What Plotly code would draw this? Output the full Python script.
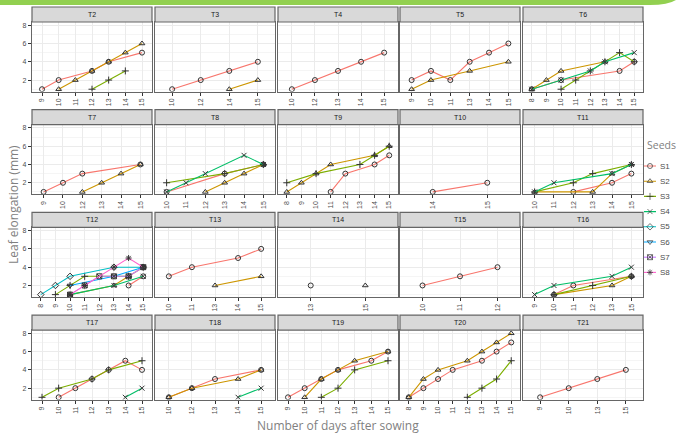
import plotly.graph_objects as go
from plotly.subplots import make_subplots

W, H = 679, 434

PANELS = [f"T{i}" for i in range(2, 22)]
DAYS = {
    "T2": [9, 10, 11, 12, 13, 14, 15],
    "T3": [10, 12, 14, 15],
    "T4": [10, 12, 13, 14, 15],
    "T5": [9, 10, 11, 13, 14, 15],
    "T6": [8, 9, 10, 11, 12, 13, 14, 15],
    "T7": [9, 10, 12, 13, 14, 15],
    "T8": [10, 11, 12, 13, 14, 15],
    "T9": [8, 9, 10, 11, 12, 13, 14, 15],
    "T10": [14, 15],
    "T11": [10, 11, 12, 13, 14, 15],
    "T12": [8, 9, 10, 11, 12, 13, 14, 15],
    "T13": [10, 11, 13, 14, 15],
    "T14": [13, 15],
    "T15": [10, 11, 12],
    "T16": [9, 10, 11, 12, 13, 15],
    "T17": [9, 10, 11, 12, 13, 14, 15],
    "T18": [10, 12, 13, 14, 15],
    "T19": [9, 10, 11, 12, 13, 14, 15],
    "T20": [8, 9, 10, 11, 12, 13, 14, 15],
    "T21": [9, 10, 13, 15],
}

SEEDS = ["S1", "S2", "S3", "S4", "S5", "S6", "S7", "S8"]
COLORS = ["#F8766D", "#CD9600", "#7CAE00", "#00BE67", "#00BFC4", "#00A9FF", "#C77CFF", "#FF61CC"]
SYMBOLS = ["circle-open", "triangle-up-open", "cross-thin-open", "x-thin-open",
           "diamond-open", "triangle-down-open", "square-x-open", "asterisk-open"]

# (days, leaf elongation mm) per treatment panel
S1 = {
    "T2": ([9, 10, 12, 13, 15], [1, 2, 3, 4, 5]),
    "T3": ([10, 12, 14, 15], [1, 2, 3, 4]),
    "T4": ([10, 12, 13, 14, 15], [1, 2, 3, 4, 5]),
    "T5": ([9, 10, 11, 13, 14, 15], [2, 3, 2, 4, 5, 6]),
    "T6": ([8, 10, 14, 15], [1, 2, 3, 4]),
    "T7": ([9, 10, 12, 15], [1, 2, 3, 4]),
    "T8": ([10, 13, 15], [1, 3, 4]),
    "T9": ([11, 12, 14, 15], [1, 3, 4, 5]),
    "T10": ([14, 15], [1, 2]),
    "T11": ([12, 14, 15], [1, 2, 3]),
    "T12": ([14, 15], [2, 3]),
    "T13": ([10, 11, 14, 15], [3, 4, 5, 6]),
    "T14": ([13], [2]),
    "T15": ([10, 11, 12], [2, 3, 4]),
    "T16": ([10, 11, 15], [1, 2, 3]),
    "T17": ([10, 11, 12, 13, 14, 15], [1, 2, 3, 4, 5, 4]),
    "T18": ([10, 12, 13, 15], [1, 2, 3, 4]),
    "T19": ([9, 10, 11, 12, 14, 15], [1, 2, 3, 4, 5, 6]),
    "T20": ([8, 9, 10, 11, 13, 14, 15], [1, 2, 3, 4, 5, 6, 7]),
    "T21": ([9, 10, 13, 15], [1, 2, 3, 4]),
}
S2 = {
    "T2": ([10, 11, 12, 13, 14, 15], [1, 2, 3, 4, 5, 6]),
    "T3": ([14, 15], [1, 2]),
    "T5": ([9, 10, 13, 15], [1, 2, 3, 4]),
    "T6": ([8, 9, 10, 13], [1, 2, 3, 4]),
    "T7": ([12, 13, 14, 15], [1, 2, 3, 4]),
    "T8": ([12, 13, 14, 15], [1, 2, 3, 4]),
    "T9": ([8, 9, 10, 11, 14, 15], [1, 2, 3, 4, 5, 6]),
    "T11": ([10, 13, 14, 15], [1, 1, 3, 4]),
    "T12": ([10, 13, 14, 15], [1, 2, 3, 4]),
    "T13": ([13, 15], [2, 3]),
    "T14": ([15], [2]),
    "T16": ([10, 13, 15], [1, 2, 3]),
    "T18": ([10, 12, 14, 15], [1, 2, 3, 4]),
    "T19": ([10, 11, 12, 13, 15], [1, 3, 4, 5, 6]),
    "T20": ([8, 9, 10, 12, 13, 14, 15], [1, 3, 4, 5, 6, 7, 8]),
}
S3 = {
    "T2": ([12, 13, 14], [1, 2, 3]),
    "T6": ([10, 11, 12, 13, 14, 15], [1, 2, 3, 4, 5, 4]),
    "T8": ([10, 13, 15], [2, 3, 4]),
    "T9": ([8, 10, 13, 14, 15], [2, 3, 4, 5, 6]),
    "T11": ([10, 12, 13, 15], [1, 2, 3, 4]),
    "T12": ([9, 10, 11, 14], [1, 2, 3, 3]),
    "T16": ([10, 12, 15], [1, 2, 3]),
    "T17": ([9, 10, 12, 13, 15], [1, 2, 3, 4, 5]),
    "T19": ([11, 12, 13, 15], [1, 2, 4, 5]),
    "T20": ([12, 13, 14, 15], [1, 2, 3, 5]),
}
S4 = {
    "T6": ([8, 10, 12, 13, 15], [1, 2, 3, 4, 5]),
    "T8": ([10, 11, 12, 14, 15], [1, 2, 3, 5, 4]),
    "T11": ([10, 11, 14, 15], [1, 2, 3, 4]),
    "T12": ([10, 13, 15], [1, 2, 3]),
    "T16": ([9, 10, 13, 15], [1, 2, 3, 4]),
    "T17": ([14, 15], [1, 2]),
    "T18": ([14, 15], [1, 2]),
}
S5 = {"T12": ([8, 9, 10, 13, 15], [1, 2, 3, 4, 4])}
S6 = {"T12": ([10, 13, 15], [2, 3, 4])}
S7 = {"T12": ([10, 11, 12, 13, 14, 15], [1, 2, 3, 3, 3, 4])}
S8 = {"T12": ([10, 11, 13, 14, 15], [1, 2, 4, 5, 4])}
SERIES = [S1, S2, S3, S4, S5, S6, S7, S8]

Y_TICKS = [2, 4, 6, 8]

# ---------------- layout geometry (pixels) ----------------
COLS = [(32, 152), (155, 275), (278, 398), (400, 520), (523, 643)]
ROW_PITCH = 102.7
STRIP_H = 15
PLOT_H = 69.5
FONT = "Liberation Sans, Arial, sans-serif"
TITLE_FONT = "Open Sans, sans-serif"
MARKER_COLOR = "#333333"


def row_geom(r):
    top = 7 + ROW_PITCH * r
    return top, top + STRIP_H, top + STRIP_H + PLOT_H


fig = make_subplots(rows=4, cols=5)
axmap = {}
for i, p in enumerate(PANELS):
    r, c = divmod(i, 5)
    axmap[p] = (r + 1, c + 1, i + 1)

# category placeholders so every day is on the axis
for p in PANELS:
    r, c, k = axmap[p]
    fig.add_trace(go.Scatter(x=[str(d) for d in DAYS[p]], y=[1] * len(DAYS[p]), mode="markers",
                             marker=dict(opacity=0), showlegend=False, hoverinfo="skip"),
                  row=r, col=c)

for s, name in enumerate(SEEDS):
    for p in PANELS:
        if p not in SERIES[s]:
            continue
        days, vals = SERIES[s][p]
        r, c, k = axmap[p]
        fig.add_trace(go.Scatter(
            x=[str(d) for d in days], y=vals, mode="lines+markers", name=name,
            showlegend=False,
            line=dict(color=COLORS[s], width=1.1),
            marker=dict(symbol=SYMBOLS[s], size=5, color=MARKER_COLOR, line=dict(width=1, color=MARKER_COLOR)),
        ), row=r, col=c)

shapes = []
annotations = []
for p in PANELS:
    r, c, k = axmap[p]
    x0, x1 = COLS[c - 1]
    st, pt, pb = row_geom(r - 1)
    xa = "xaxis" if k == 1 else f"xaxis{k}"
    ya = "yaxis" if k == 1 else f"yaxis{k}"
    n = len(DAYS[p])
    fig.layout[xa].update(
        domain=[x0 / W, x1 / W], type="category", categoryorder="array",
        categoryarray=[str(d) for d in DAYS[p]], range=[-0.6, n - 0.4],
        tickangle=-90, ticks="outside", ticklen=3, tickcolor="#333333",
        tickfont=dict(size=7, color="#4D4D4D", family=FONT),
        showgrid=True, gridcolor="#EBEBEB", gridwidth=0.8,
        showline=True, mirror=True, linecolor="#666666", linewidth=1.2,
        zeroline=False, fixedrange=True,
    )
    fig.layout[ya].update(
        domain=[1 - pb / H, 1 - pt / H], range=[0.75, 8.35],
        tickvals=Y_TICKS, showticklabels=(c == 1),
        ticks="outside" if c == 1 else "", ticklen=3, tickcolor="#333333",
        tickfont=dict(size=7, color="#4D4D4D", family=FONT),
        showgrid=True, gridcolor="#EBEBEB", gridwidth=0.8,
        minor=dict(tickvals=[1, 3, 5, 7], showgrid=True, gridcolor="#F5F5F5", gridwidth=0.5, ticks=""),
        showline=True, mirror=True, linecolor="#666666", linewidth=1.2,
        zeroline=False, fixedrange=True,
    )
    shapes.append(dict(type="rect", xref="paper", yref="paper",
                       x0=x0 / W, x1=x1 / W, y0=1 - pt / H, y1=1 - st / H,
                       fillcolor="#D9D9D9", line=dict(color="#666666", width=1.2), layer="above"))
    annotations.append(dict(text=p, xref="paper", yref="paper", x=(x0 + x1) / 2 / W,
                            y=1 - (st + pt) / 2 / H, showarrow=False,
                            font=dict(size=7, color="#1A1A1A", family=FONT),
                            xanchor="center", yanchor="middle"))

# ---------------- manual legend (keys drawn on a small helper axis) ----------------
LEG_TOP, LEG_STEP = 166, 15.2
leg_y0 = LEG_TOP - LEG_STEP / 2
leg_y1 = LEG_TOP + LEG_STEP * (len(SEEDS) - 0.5)
fig.layout["xaxis21"] = dict(domain=[644 / W, 656 / W], range=[0, 2], visible=False, fixedrange=True,
                             anchor="y21")
fig.layout["yaxis21"] = dict(domain=[1 - leg_y1 / H, 1 - leg_y0 / H], range=[len(SEEDS) - 0.5, -0.5],
                             visible=False, fixedrange=True, anchor="x21")
for s, name in enumerate(SEEDS):
    fig.add_trace(go.Scatter(x=[0, 1, 2], y=[s, s, s], mode="lines+markers", xaxis="x21", yaxis="y21",
                             showlegend=False, hoverinfo="skip",
                             line=dict(color=COLORS[s], width=1.1),
                             marker=dict(symbol=SYMBOLS[s], size=[0, 5, 0], color=MARKER_COLOR,
                                         line=dict(width=1, color=MARKER_COLOR))))
    annotations.append(dict(text=name, xref="paper", yref="paper", x=658 / W, y=1 - (LEG_TOP + LEG_STEP * s) / H,
                            showarrow=False, xanchor="left", yanchor="middle",
                            font=dict(size=8, color="#4D4D4D", family=FONT)))
annotations.append(dict(text="Seeds", xref="paper", yref="paper", x=645 / W, y=1 - 145 / H,
                        showarrow=False, xanchor="left", yanchor="middle",
                        font=dict(size=10.5, color="#7F7F7F", family=TITLE_FONT)))

# green slide band at top
shapes.append(dict(type="path", xref="paper", yref="paper", layer="above",
                   path=f"M 0 1 L {676 / W} 1 Q {668 / W} {1 - 5 / H} {650 / W} {1 - 5 / H} L 0 {1 - 5 / H} Z",
                   fillcolor="#92D050", line=dict(width=0)))

annotations.append(dict(text="Leaf elongation (mm)", xref="paper", yref="paper", x=13 / W, y=1 - 205 / H,
                        textangle=-90, showarrow=False, xanchor="center", yanchor="middle",
                        font=dict(size=12, color="#7F7F7F", family=TITLE_FONT)))
annotations.append(dict(text="Number of days after sowing", xref="paper", yref="paper", x=338 / W,
                        y=1 - 425 / H, showarrow=False, xanchor="center", yanchor="middle",
                        font=dict(size=12, color="#7F7F7F", family=TITLE_FONT)))

fig.update_layout(
    width=W, height=H, margin=dict(l=0, r=0, t=0, b=0),
    paper_bgcolor="white", plot_bgcolor="white",
    shapes=shapes, annotations=annotations,
    showlegend=False,
)

fig.write_html("out.html", config={"displayModeBar": False},
               post_script="document.body.style.margin='0';document.body.style.overflow='hidden';")
